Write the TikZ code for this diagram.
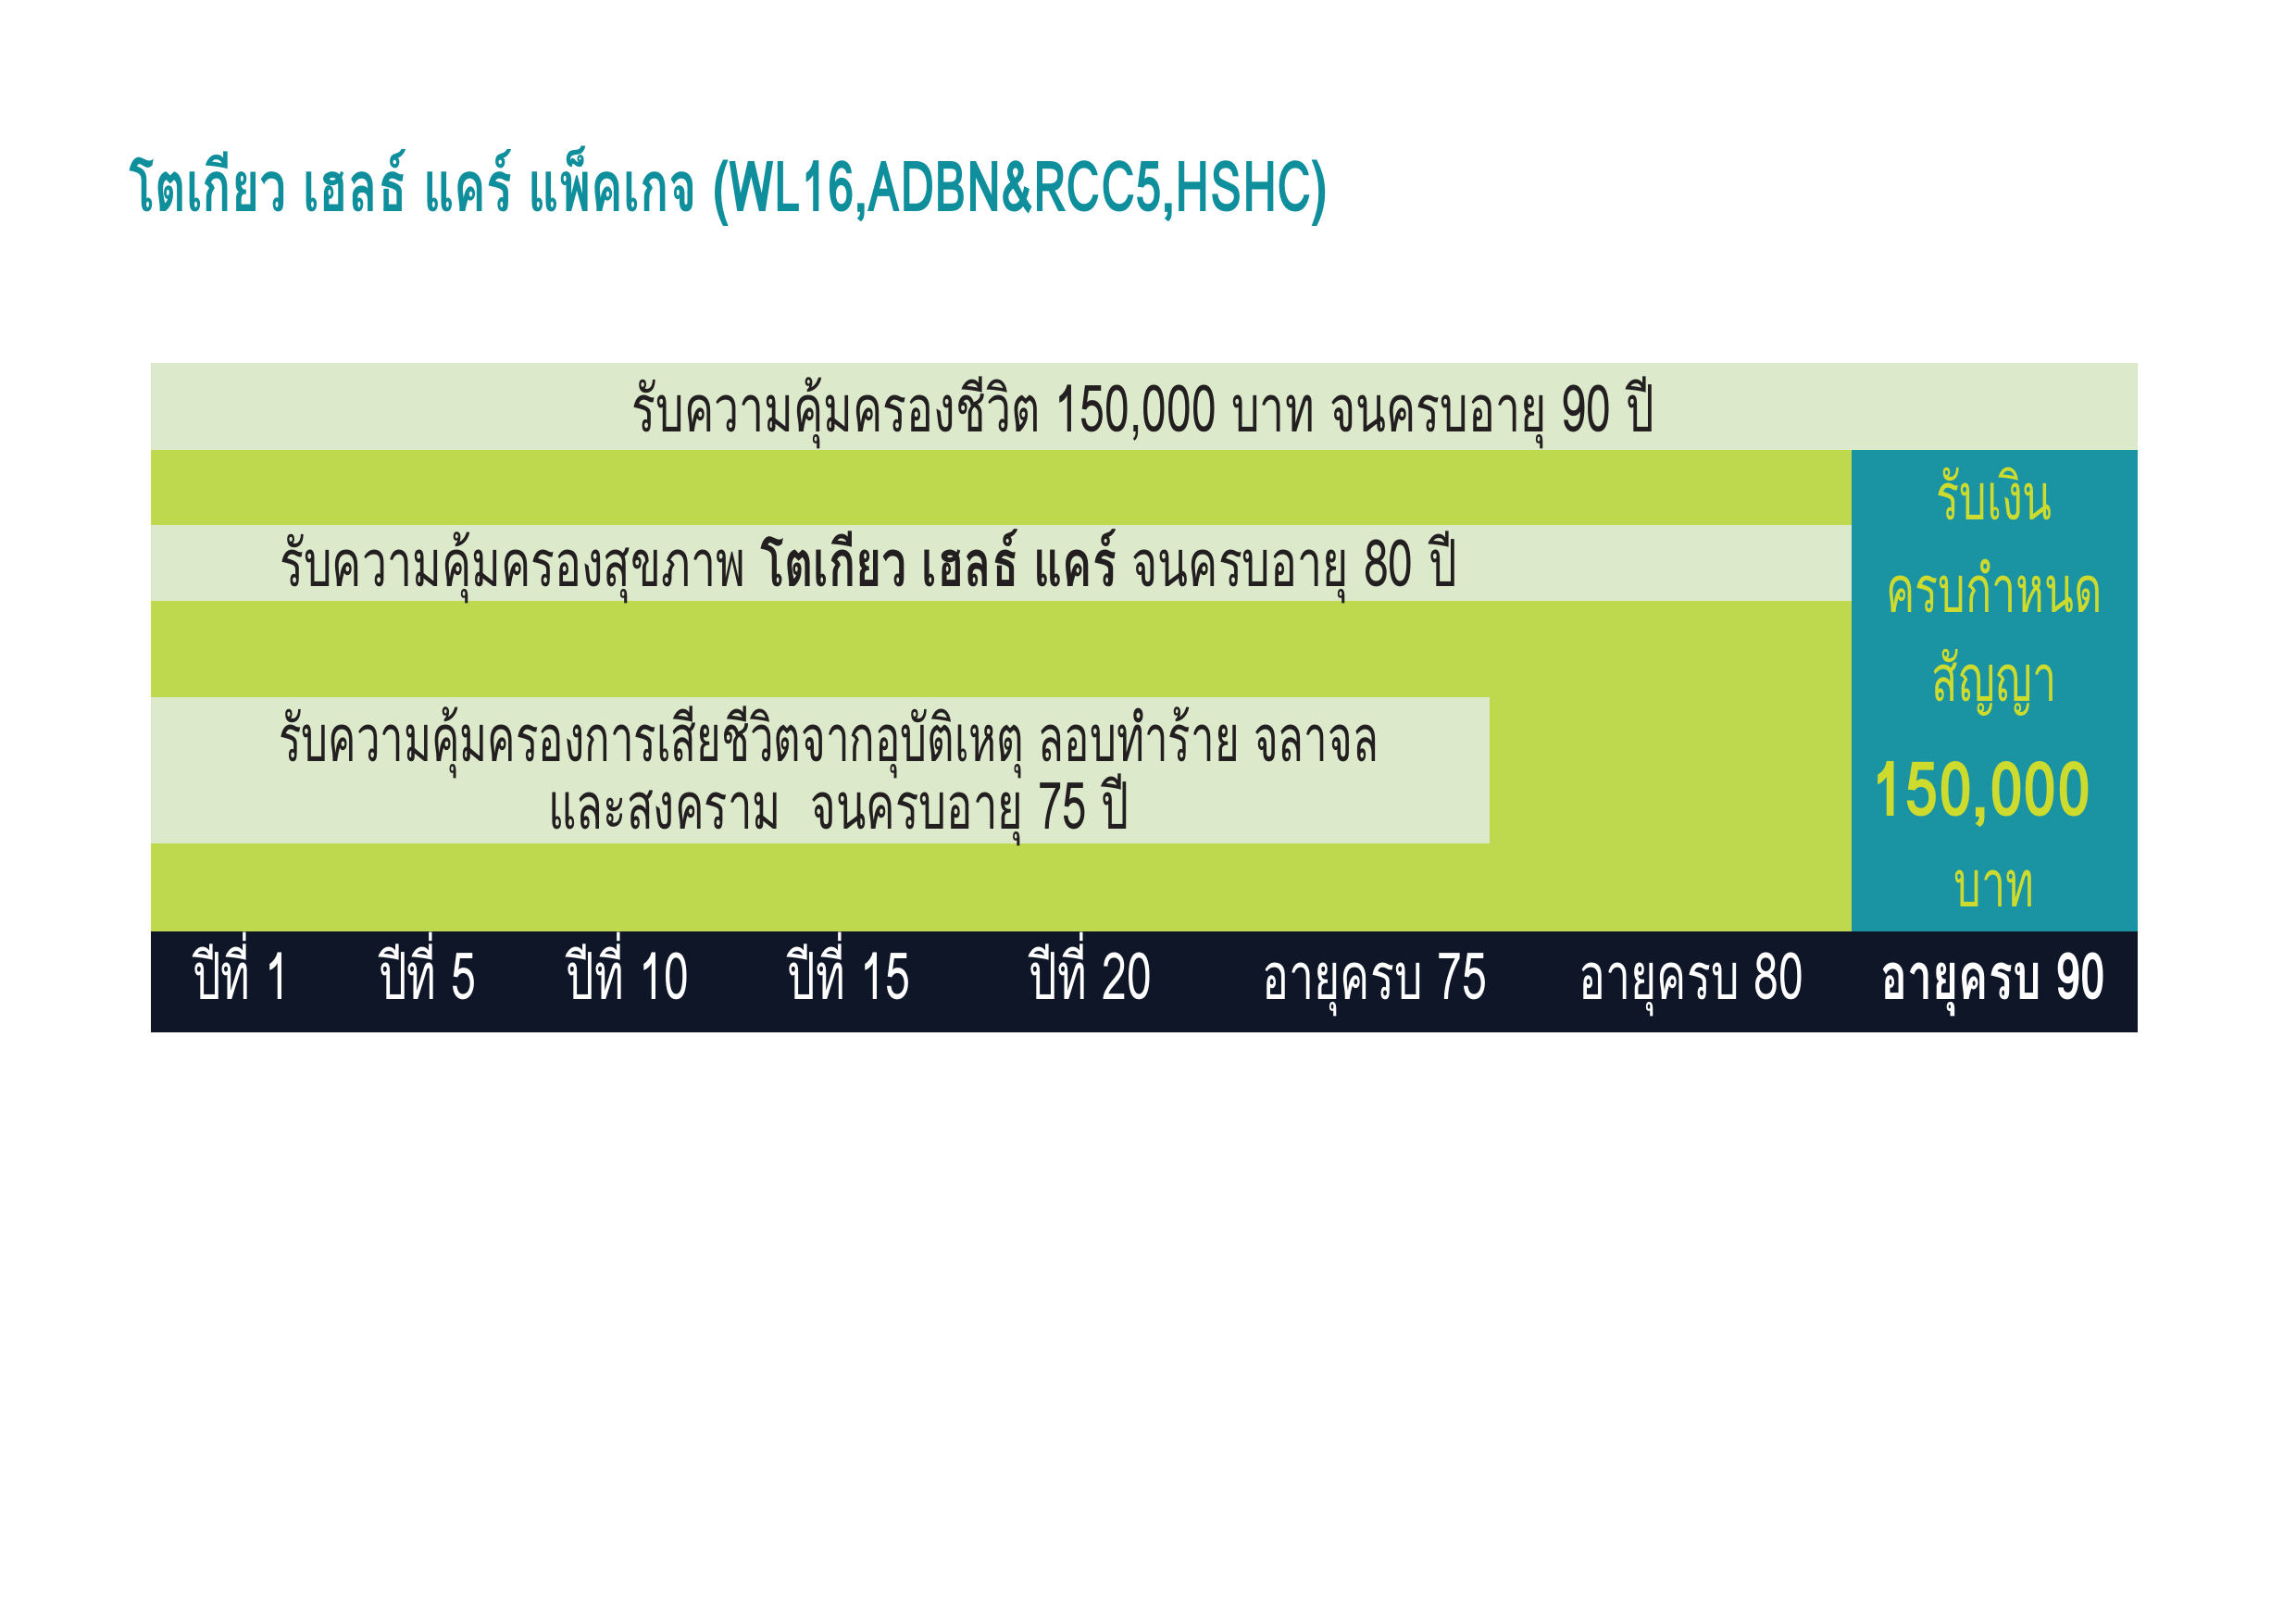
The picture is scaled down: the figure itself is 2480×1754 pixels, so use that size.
\documentclass[tikz,border=0pt]{standalone}
\usepackage{fontspec}
\usepackage{graphicx}
\setmainfont[Script=Thai]{Loma}
\newfontfamily\thaicond[Script=Thai,FakeStretch=0.685]{Loma}
\newfontfamily\thaititle[Script=Thai,FakeStretch=0.68]{Loma}
\newfontfamily\thaiwide[Script=Thai,FakeStretch=0.8]{Loma}
\newcommand{\hsq}[2]{\scalebox{#1}[1]{#2}}
\definecolor{lightband}{HTML}{DCEACB}
\definecolor{lime}{HTML}{BFD94E}
\definecolor{tealbox}{HTML}{1A93A3}
\definecolor{darkbar}{HTML}{0E1627}
\definecolor{titleteal}{HTML}{0F8E9C}
\definecolor{yellowtxt}{HTML}{CDDB2E}
\definecolor{txtdark}{HTML}{231F20}
\tikzset{
  rowtxt/.style={text=txtdark, font=\thaicond\fontsize{24}{28}\selectfont, inner sep=0pt, anchor=base},
  bartxt/.style={text=white, font=\thaicond\fontsize{24}{28}\selectfont, inner sep=0pt, anchor=base},
  tealtxt/.style={text=yellowtxt, font=\thaicond\fontsize{24}{28}\selectfont, inner sep=0pt, anchor=base},
}
\begin{document}
\begin{tikzpicture}[x=0.11976mm,y=-0.11976mm]
\useasboundingbox (0,0) rectangle (2480,1754);
\fill[white] (0,0) rectangle (2480,1754);
% bands
\fill[lime] (163,486) rectangle (2000,1006);
\fill[lightband] (163,392) rectangle (2309,486);
\fill[lightband] (163,567) rectangle (2000,649);
\fill[lightband] (163,753) rectangle (1609,911);
\fill[tealbox] (2000,486) rectangle (2309,1006);
\fill[darkbar] (163,1006) rectangle (2309,1115);
% title
\node[text=titleteal, font=\thaititle\bfseries\fontsize{26}{30}\selectfont, inner sep=0pt, anchor=base west] (title) at (139,228) {โตเกียว เฮลธ์ แคร์ แพ็คเกจ (WL16,ADBN\&RCC5,HSHC)};
% rows
\node[rowtxt] (row1) at (1235,466) {รับความคุ้มครองชีวิต 150,000 บาท จนครบอายุ 90 ปี};
\node[rowtxt] (row2) at (938,633) {รับความคุ้มครองสุขภาพ \textbf{โตเกียว เฮลธ์ แคร์} จนครบอายุ 80 ปี};
\node[rowtxt] (row3a) at (895,822) {\hsq{0.945}{รับความคุ้มครองการเสียชีวิตจากอุบัติเหตุ ลอบทำร้าย จลาจล}};
\node[rowtxt] (row3b) at (906,895) {\hsq{0.98}{และสงคราม\ \ จนครบอายุ 75 ปี}};
% teal box
\node[tealtxt] (t1) at (2154,561) {\hsq{0.97}{รับเงิน}};
\node[tealtxt] (t2) at (2154,661) {\hsq{0.97}{ครบกำหนด}};
\node[tealtxt] (t3) at (2154,757) {\hsq{0.97}{สัญญา}};
\node[tealtxt, font=\thaiwide\bfseries\fontsize{28}{32}\selectfont] (t4) at (2140,881) {150,000};
\node[tealtxt] (t5) at (2154,979) {\hsq{0.97}{บาท}};
% bottom bar
\node[bartxt] (y1) at (261,1079) {ปีที่ 1};
\node[bartxt] (y5) at (462,1079) {ปีที่ 5};
\node[bartxt] (y10) at (678,1079) {ปีที่ 10};
\node[bartxt] (y15) at (917,1079) {ปีที่ 15};
\node[bartxt] (y20) at (1178,1079) {ปีที่ 20};
\node[bartxt] (a75) at (1485,1079) {อายุครบ 75};
\node[bartxt] (a80) at (1827,1079) {อายุครบ 80};
\node[bartxt, font=\thaicond\bfseries\fontsize{24}{28}\selectfont] (a90) at (2153,1079) {อายุครบ 90};
\end{tikzpicture}
\end{document}
